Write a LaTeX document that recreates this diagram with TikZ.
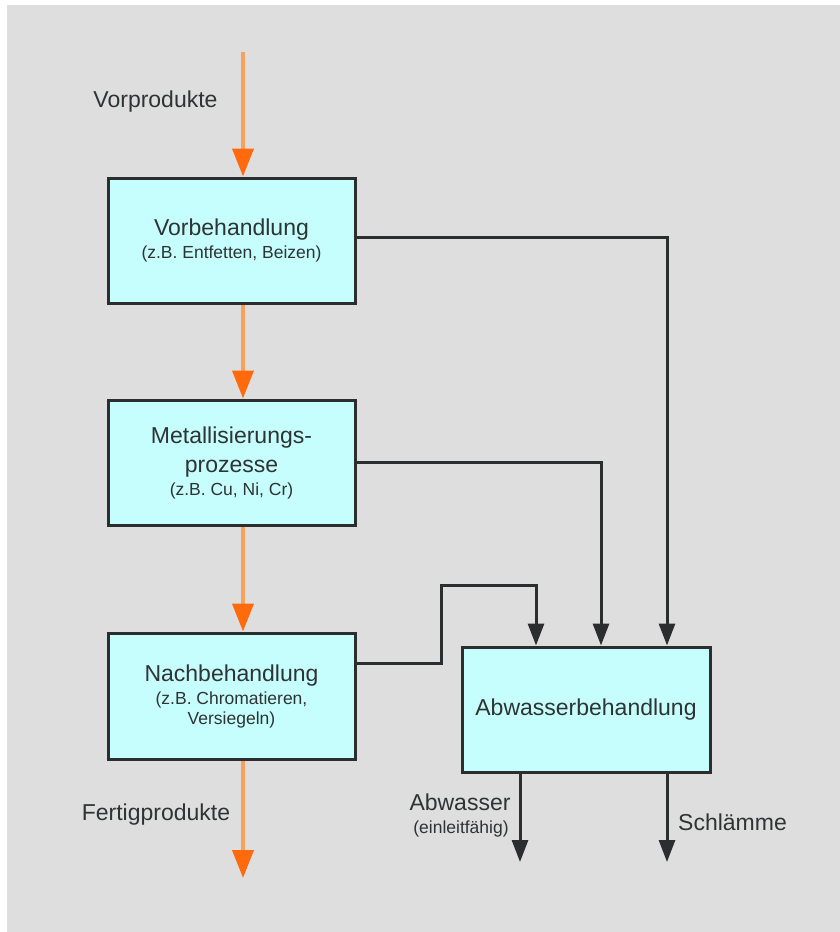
\documentclass[tikz,border=0pt]{standalone}
\usepackage{fontspec}
\setmainfont{Liberation Sans}
\usetikzlibrary{arrows.meta}

\definecolor{bggray}{HTML}{DEDEDE}
\definecolor{boxfill}{HTML}{C6FDFD}
\definecolor{edge}{HTML}{2A2E2E}
\definecolor{ink}{HTML}{2E3333}
\definecolor{flowline}{HTML}{F6A25E}
\definecolor{flowhead}{HTML}{FF6A0C}

\newcommand\bigtxt{\fontsize{23}{23}\selectfont}
\newcommand\smalltxt{\fontsize{17.5}{20}\selectfont}

\begin{document}
\begin{tikzpicture}[x=1pt,y=-1pt,
  stage/.style={draw=edge, line width=3pt, fill=boxfill,
    minimum width=247pt, minimum height=125pt, inner sep=0pt,
    align=center, text=ink, font=\bigtxt},
  product/.style={draw=flowline, line width=4pt,
    -{Triangle[length=28pt,width=21pt,color=flowhead]}},
  water/.style={draw=edge, line width=3pt,
    -{Triangle[length=22pt,width=16pt]}},
  tag/.style={text=ink, font=\bigtxt, inner sep=0pt, anchor=base},
  smalltag/.style={text=ink, font=\smalltxt, inner sep=0pt, anchor=base},
]
% page and background
\useasboundingbox (0,0) rectangle (840,932);
\fill[white] (0,0) rectangle (840,932);
\fill[bggray] (7,5) rectangle (840,932);

% process stages
\node[stage] (vb) at (231.5,240.5)
  {Vorbehandlung\\{\smalltxt (z.B. Entfetten, Beizen)}};
\node[stage] (mp) at (231.5,462.5)
  {Metallisierungs-\\[6pt]prozesse\\{\smalltxt (z.B. Cu, Ni, Cr)}};
\node[stage, minimum height=126pt] (nb) at (231.5,696)
  {Nachbehandlung\\{\smalltxt (z.B. Chromatieren,}\\[-3pt]{\smalltxt Versiegeln)}};
\node[stage, minimum width=248pt] (ab) at (586,709.5) {Abwasserbehandlung};

% product path
\coordinate (col) at (243,0);
\coordinate (in) at (243,52);
\coordinate (out) at (243,878);
\draw[product] (in) -- (vb.north -| col);
\draw[product] (vb.south -| col) -- (mp.north -| col);
\draw[product] (mp.south -| col) -- (nb.north -| col);
\draw[product] (nb.south -| col) -- (out);

\node[tag] (lin) at (155.5,107.5) {Vorprodukte};
\node[tag] (lout) at (156,820) {Fertigprodukte};

% waste water lines
\coordinate (w1) at (667,237);
\draw[water] (vb.east |- w1) -- (w1) -- (ab.north -| w1);
\coordinate (w2) at (601,462.5);
\draw[water] (mp.east |- w2) -- (w2) -- (ab.north -| w2);
\coordinate (w3a) at (441,663);
\coordinate (w3b) at (441,585);
\coordinate (w3c) at (536,585);
\draw[water] (nb.east |- w3a) -- (w3a) -- (w3b) -- (w3c) -- (ab.north -| w3c);

% outputs of the treatment
\coordinate (o1) at (520,862);
\coordinate (o2) at (667,862);
\draw[water] (ab.south -| o1) -- (o1);
\draw[water] (ab.south -| o2) -- (o2);

\node[tag] (law) at (460,810) {Abwasser};
\node[smalltag] (lew) at (461,833) {(einleitfähig)};
\node[tag] (lsl) at (732.5,830) {Schlämme};
\end{tikzpicture}
\end{document}
